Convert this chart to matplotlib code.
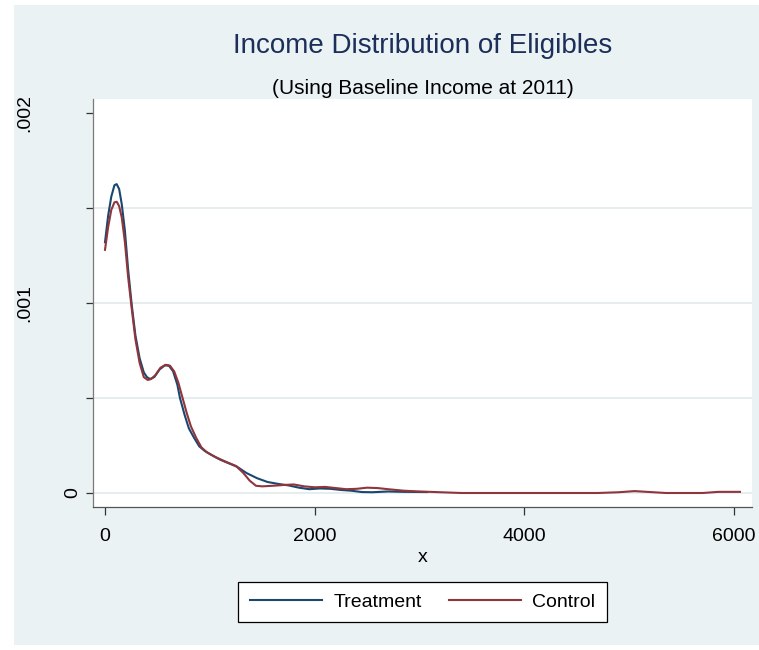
import numpy as np
import matplotlib
matplotlib.use("Agg")
import matplotlib.pyplot as plt
import matplotlib.patches as patches
import matplotlib.transforms as mtransforms

plt.rcParams["font.family"] = ["Liberation Sans", "DejaVu Sans"]

# ---------------------------------------------------------------------------
# Data
# ---------------------------------------------------------------------------
treat_x = [0, 30, 60, 90, 111, 135, 160, 190, 220, 255, 290, 330, 370, 400,
           430, 470, 520, 570, 610, 650, 690, 715, 760, 800, 850, 900, 950,
           1000, 1100, 1200, 1260, 1350, 1450, 1550, 1650, 1750, 1850, 1950,
           2050, 2150, 2250, 2350, 2450, 2550, 2700, 2850, 3070]
treat_y = [0.00132, 0.00146, 0.00156, 0.00162, 0.001626, 0.00160, 0.00152,
           0.00138, 0.00118, 0.00099, 0.00083, 0.00071, 0.000635, 0.00061,
           0.00060, 0.00061, 0.00065, 0.000672, 0.00067, 0.00064, 0.00057,
           0.00050, 0.00041, 0.00034, 0.00029, 0.000245, 0.000222, 0.000205,
           0.000175, 0.000152, 0.000138, 0.000105, 0.000078, 0.000058,
           0.000048, 0.000040, 0.000028, 0.000020, 0.000024, 0.000022,
           0.000016, 0.000012, 0.000005, 0.000004, 0.000008, 0.000006,
           0.000005]

ctrl_x = [0, 30, 60, 90, 112, 135, 160, 190, 220, 255, 290, 330, 370, 407,
          440, 480, 530, 580, 620, 660, 700, 740, 780, 820, 870, 920, 970,
          1050, 1150, 1250, 1320, 1380, 1440, 1500, 1600, 1700, 1800, 1900,
          2000, 2100, 2200, 2300, 2400, 2500, 2600, 2700, 2850, 3000, 3200,
          3400, 4000, 4700, 4900, 5050, 5200, 5350, 5700, 5850, 6056]
ctrl_y = [0.00128, 0.00140, 0.00149, 0.00153, 0.001533, 0.00151, 0.00145,
          0.00132, 0.00114, 0.00097, 0.00081, 0.000685, 0.00061, 0.000595,
          0.00060, 0.00062, 0.00066, 0.000675, 0.00067, 0.00064, 0.00058,
          0.00050, 0.00042, 0.00035, 0.00029, 0.00024, 0.000215, 0.00019,
          0.000165, 0.000142, 0.000105, 0.000065, 0.000038, 0.000035,
          0.000038, 0.000042, 0.000045, 0.000035, 0.000030, 0.000032,
          0.000026, 0.000020, 0.000022, 0.000028, 0.000026, 0.000020,
          0.000012, 0.000008, 0.000004, 0.0, 0.0, 0.0, 0.000004, 0.000010,
          0.000005, 0.0, 0.0, 0.000006, 0.000006]

xticks       = [0, 2000, 4000, 6000]
yticks       = [0, 0.0005, 0.001, 0.0015, 0.002]
ytick_labels = ["0", "", ".001", "", ".002"]

TITLE    = "Income Distribution of Eligibles"
SUBTITLE = "(Using Baseline Income at 2011)"

# ---------------------------------------------------------------------------
# Styling (Stata s2color look)
# ---------------------------------------------------------------------------
W, H     = 759, 650
BG_GRAPH = "#EAF2F3"
GRID_CLR = "#E3ECEE"
NAVY     = "#1A476F"
MAROON   = "#90353B"
TITLE_CLR = "#1C2E5A"

fig = plt.figure(figsize=(W / 100, H / 100), dpi=100, facecolor="white")

# graph region (light bluish background)
fig.patches.append(patches.Rectangle((14 / W, 5 / H), 1 - 14 / W, 1 - 10 / H,
                                     transform=fig.transFigure,
                                     facecolor=BG_GRAPH, edgecolor="none",
                                     zorder=-5))

ax = fig.add_axes([93 / W, 1 - 507 / H, (752 - 93) / W, (507 - 99) / H],
                  facecolor="white")
ax.set_zorder(2)
ax.set_xlim(-114.4, 6170.7)
ax.set_ylim(-0.0000737, 0.002074)

for s in ["top", "right"]:
    ax.spines[s].set_visible(False)
ax.spines["left"].set_color("#7A7A7A")
ax.spines["bottom"].set_color("#555555")
ax.spines["left"].set_linewidth(0.9)
ax.spines["bottom"].set_linewidth(0.9)

# grid lines (all y ticks except the top one)
for v in yticks[:-1]:
    ax.axhline(v, color=GRID_CLR, lw=1.3, zorder=0)

ax.plot(treat_x, treat_y, color=NAVY, lw=1.5, label="Treatment", zorder=3)
ax.plot(ctrl_x, ctrl_y, color=MAROON, lw=1.5, label="Control", zorder=4)

ax.set_xticks(xticks)
ax.set_xticklabels([str(v) for v in xticks], fontsize=14)
ax.tick_params(axis="x", length=6, width=0.9, color="#333333", pad=9)
ax.set_yticks(yticks)
ax.set_yticklabels([""] * len(yticks))
ax.tick_params(axis="y", length=5, width=0.9, color="#333333")

# rotated y tick labels (Stata places them unevenly)
trans = mtransforms.blended_transform_factory(fig.transFigure, ax.transData)
label_px = {"0": 73, ".001": 25, ".002": 25}
for v, lab in zip(yticks, ytick_labels):
    if lab:
        ax.text(label_px[lab] / W, v, lab, transform=trans, rotation=90,
                ha="center", va="center", fontsize=14, clip_on=False)

ax.set_xlabel("x", fontsize=14)
ax.xaxis.set_label_coords(0.5, -0.102)

fig.text(422.5 / W, 1 - 46 / H, TITLE, ha="center", va="center",
         fontsize=20, color=TITLE_CLR)
fig.text(422.5 / W, 1 - 88 / H, SUBTITLE, ha="center", va="center",
         fontsize=15, color="black")

leg = fig.legend(loc="center", bbox_to_anchor=(422.5 / W, 1 - 602 / H),
                 ncol=2, fontsize=14, frameon=True, fancybox=False,
                 framealpha=1, handlelength=3.7, handletextpad=0.6,
                 columnspacing=1.4, borderpad=0.6)
leg.get_frame().set_edgecolor("black")
leg.get_frame().set_linewidth(0.9)

fig.savefig("out.png", dpi=100, facecolor="white")
